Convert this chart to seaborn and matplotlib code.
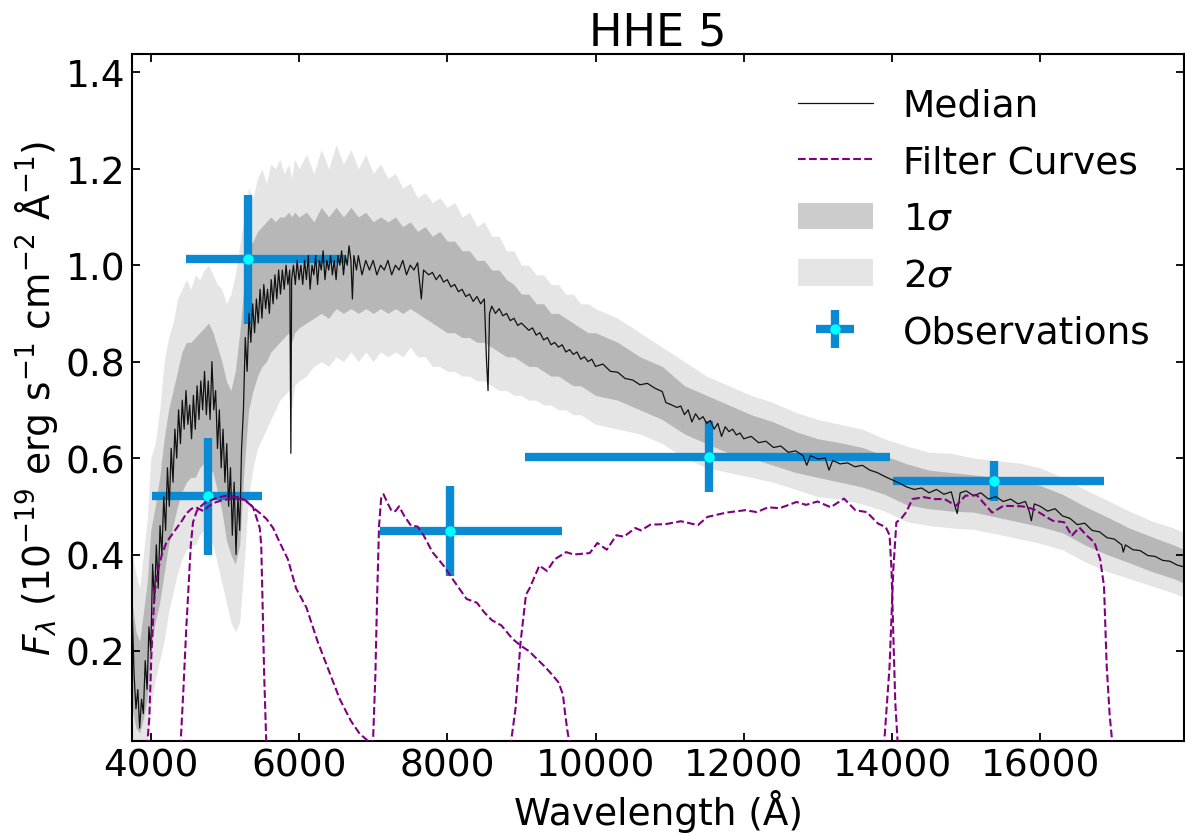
import matplotlib
matplotlib.use("Agg")
import matplotlib.pyplot as plt
import seaborn as sns

# median model spectrum
med_wave = [3750, 3775, 3800, 3825, 3850, 3875, 3900, 3925, 3950, 3975,
            4000, 4025, 4050, 4075, 4100, 4125, 4150, 4175, 4200, 4225,
            4250, 4275, 4300, 4325, 4350, 4375, 4400, 4425, 4450, 4475,
            4500, 4525, 4550, 4575, 4600, 4625, 4650, 4675, 4700, 4725,
            4750, 4775, 4800, 4825, 4850, 4875, 4900, 4925, 4950, 4975,
            5000, 5025, 5050, 5075, 5100, 5125, 5150, 5175, 5200, 5225,
            5250, 5275, 5300, 5325, 5350, 5375, 5400, 5425, 5450, 5475,
            5500, 5525, 5550, 5575, 5600, 5625, 5650, 5675, 5700, 5725,
            5750, 5775, 5800, 5825, 5850, 5875, 5890, 5900, 5925, 5950,
            5975, 6000, 6025, 6050, 6075, 6100, 6125, 6150, 6175, 6200,
            6225, 6250, 6275, 6300, 6325, 6350, 6375, 6400, 6425, 6450,
            6475, 6500, 6525, 6550, 6575, 6600, 6625, 6650, 6675, 6700,
            6720, 6740, 6775, 6800, 6850, 6900, 6950, 7000, 7050, 7100,
            7150, 7200, 7250, 7300, 7350, 7400, 7450, 7500, 7550, 7600,
            7650, 7680, 7750, 7800, 7850, 7900, 7950, 8000, 8050, 8100,
            8150, 8200, 8250, 8300, 8350, 8400, 8450, 8500, 8530, 8550,
            8570, 8600, 8650, 8700, 8750, 8800, 8850, 8900, 8950, 9000,
            9100, 9150, 9200, 9250, 9300, 9350, 9400, 9450, 9500, 9550,
            9600, 9650, 9700, 9750, 9800, 9850, 9900, 9950, 10000, 10100,
            10200, 10300, 10400, 10500, 10600, 10700, 10800, 10900, 10950, 11000,
            11100, 11150, 11200, 11250, 11300, 11350, 11400, 11450, 11500, 11550,
            11600, 11650, 11700, 11750, 11800, 11850, 11900, 11950, 12000, 12100,
            12200, 12300, 12400, 12500, 12600, 12700, 12800, 12850, 12900, 13000,
            13100, 13150, 13200, 13300, 13400, 13500, 13600, 13700, 13800, 13900,
            14000, 14100, 14200, 14300, 14400, 14500, 14600, 14700, 14800, 14850,
            14880, 14920, 15000, 15100, 15200, 15300, 15400, 15500, 15600, 15700,
            15800, 15850, 15880, 15920, 16000, 16100, 16200, 16300, 16400, 16500,
            16600, 16700, 16800, 16900, 17000, 17100, 17120, 17150, 17250, 17350,
            17450, 17550, 17650, 17750, 17850, 17950]
med_flux = [0.28, 0.15, 0.08, 0.12, 0.04, 0.10, 0.07, 0.18, 0.12, 0.25,
            0.20, 0.38, 0.30, 0.42, 0.33, 0.46, 0.40, 0.52, 0.45, 0.58,
            0.50, 0.62, 0.55, 0.66, 0.60, 0.70, 0.63, 0.72, 0.66, 0.74,
            0.67, 0.71, 0.64, 0.73, 0.66, 0.75, 0.68, 0.76, 0.70, 0.78,
            0.69, 0.76, 0.68, 0.80, 0.70, 0.74, 0.62, 0.70, 0.58, 0.66,
            0.55, 0.63, 0.50, 0.58, 0.44, 0.55, 0.40, 0.52, 0.45, 0.62,
            0.70, 0.85, 0.78, 0.90, 0.84, 0.92, 0.86, 0.93, 0.88, 0.95,
            0.89, 0.96, 0.91, 0.95, 0.90, 0.97, 0.92, 0.98, 0.93, 0.99,
            0.94, 0.99, 0.95, 1.00, 0.96, 0.99, 0.61, 0.97, 1.00, 0.96,
            1.01, 0.97, 1.00, 0.96, 1.01, 0.97, 1.02, 0.95, 1.00, 0.98,
            1.02, 0.96, 1.01, 0.99, 1.03, 0.97, 1.01, 0.99, 1.02, 0.98,
            1.01, 0.97, 1.02, 1.00, 1.03, 0.98, 1.02, 1.00, 1.04, 1.01,
            0.93, 1.02, 0.99, 1.02, 0.98, 1.01, 0.99, 1.01, 0.98, 1.00,
            0.99, 1.01, 0.98, 1.00, 0.99, 1.01, 0.98, 1.00, 0.99, 1.005,
            0.93, 0.99, 0.98, 0.985, 0.97, 0.98, 0.965, 0.97, 0.955, 0.96,
            0.945, 0.95, 0.935, 0.94, 0.925, 0.935, 0.92, 0.93, 0.80, 0.74,
            0.90, 0.915, 0.90, 0.91, 0.895, 0.90, 0.885, 0.89, 0.875, 0.88,
            0.865, 0.87, 0.855, 0.86, 0.845, 0.85, 0.835, 0.84, 0.83, 0.835,
            0.82, 0.825, 0.815, 0.82, 0.805, 0.81, 0.80, 0.805, 0.79, 0.795,
            0.78, 0.778, 0.765, 0.762, 0.752, 0.755, 0.745, 0.738, 0.715, 0.712,
            0.705, 0.708, 0.69, 0.70, 0.675, 0.692, 0.68, 0.686, 0.672, 0.678,
            0.66, 0.672, 0.645, 0.665, 0.655, 0.66, 0.648, 0.652, 0.64, 0.645,
            0.632, 0.635, 0.622, 0.625, 0.612, 0.615, 0.605, 0.585, 0.605, 0.598,
            0.60, 0.575, 0.595, 0.588, 0.59, 0.582, 0.585, 0.575, 0.57, 0.562,
            0.555, 0.548, 0.54, 0.535, 0.538, 0.528, 0.535, 0.525, 0.53, 0.50,
            0.485, 0.528, 0.532, 0.522, 0.528, 0.515, 0.52, 0.51, 0.515, 0.505,
            0.51, 0.49, 0.47, 0.505, 0.50, 0.49, 0.495, 0.48, 0.475, 0.462,
            0.465, 0.45, 0.447, 0.435, 0.432, 0.42, 0.405, 0.42, 0.41, 0.408,
            0.398, 0.396, 0.388, 0.386, 0.378, 0.374]

# 1 and 2 sigma envelopes
band_wave = [3750, 3800, 3850, 3900, 3950, 4000, 4060, 4120, 4180, 4240,
             4300, 4360, 4420, 4480, 4540, 4600, 4660, 4720, 4780, 4840,
             4900, 4960, 5020, 5080, 5140, 5200, 5260, 5320, 5380, 5440,
             5500, 5560, 5620, 5680, 5740, 5800, 5860, 5900, 5940, 6000,
             6100, 6200, 6300, 6400, 6500, 6600, 6700, 6800, 6900, 7000,
             7100, 7200, 7300, 7400, 7500, 7600, 7700, 7800, 7900, 8000,
             8100, 8200, 8300, 8400, 8500, 8600, 8700, 8800, 8900, 9000,
             9100, 9200, 9300, 9400, 9500, 9600, 9700, 9800, 9900, 10000,
             10300, 10600, 10900, 11200, 11500, 11800, 12100, 12400, 12700, 13000,
             13300, 13600, 13900, 14200, 14500, 14800, 15100, 15400, 15700, 16000,
             16300, 16600, 16900, 17200, 17500, 17800, 17950]
hi2 = [0.40, 0.36, 0.33, 0.40, 0.47, 0.60, 0.63, 0.70, 0.80, 0.85,
       0.88, 0.93, 0.95, 0.97, 0.95, 0.98, 0.97, 0.99, 1.00, 0.98,
       0.96, 0.95, 0.92, 0.94, 0.98, 1.04, 1.10, 1.16, 1.14, 1.18,
       1.20, 1.17, 1.21, 1.20, 1.22, 1.19, 1.21, 1.18, 1.22, 1.20,
       1.23, 1.19, 1.24, 1.20, 1.25, 1.21, 1.24, 1.20, 1.23, 1.19,
       1.21, 1.18, 1.19, 1.16, 1.17, 1.14, 1.15, 1.13, 1.14, 1.12,
       1.13, 1.10, 1.11, 1.08, 1.09, 1.06, 1.06, 1.03, 1.03, 1.00,
       1.00, 0.98, 0.98, 0.96, 0.96, 0.94, 0.94, 0.92, 0.92, 0.91,
       0.89, 0.86, 0.83, 0.80, 0.77, 0.75, 0.73, 0.715, 0.695, 0.68,
       0.67, 0.66, 0.64, 0.625, 0.612, 0.61, 0.60, 0.595, 0.59, 0.58,
       0.56, 0.535, 0.513, 0.49, 0.47, 0.455, 0.445]
hi1 = [0.30, 0.24, 0.22, 0.28, 0.34, 0.45, 0.50, 0.56, 0.64, 0.70,
       0.74, 0.78, 0.82, 0.84, 0.84, 0.85, 0.86, 0.87, 0.88, 0.86,
       0.83, 0.80, 0.76, 0.74, 0.78, 0.86, 0.96, 1.04, 1.05, 1.07,
       1.08, 1.09, 1.10, 1.09, 1.10, 1.10, 1.11, 1.10, 1.11, 1.10,
       1.11, 1.09, 1.12, 1.10, 1.12, 1.10, 1.12, 1.10, 1.11, 1.09,
       1.10, 1.09, 1.10, 1.08, 1.09, 1.07, 1.08, 1.06, 1.07, 1.05,
       1.05, 1.03, 1.03, 1.01, 1.01, 0.99, 0.99, 0.97, 0.96, 0.94,
       0.94, 0.92, 0.92, 0.90, 0.90, 0.89, 0.88, 0.87, 0.86, 0.86,
       0.84, 0.81, 0.79, 0.75, 0.73, 0.71, 0.69, 0.675, 0.655, 0.64,
       0.632, 0.622, 0.605, 0.588, 0.575, 0.57, 0.565, 0.56, 0.553, 0.543,
       0.525, 0.50, 0.478, 0.455, 0.437, 0.42, 0.41]
lo1 = [0.08, 0.04, 0.03, 0.06, 0.10, 0.20, 0.26, 0.30, 0.36, 0.42,
       0.46, 0.50, 0.53, 0.55, 0.56, 0.56, 0.58, 0.59, 0.58, 0.57,
       0.53, 0.49, 0.43, 0.40, 0.38, 0.42, 0.58, 0.70, 0.74, 0.77,
       0.79, 0.80, 0.82, 0.83, 0.84, 0.85, 0.86, 0.84, 0.86, 0.87,
       0.88, 0.89, 0.90, 0.89, 0.91, 0.90, 0.91, 0.90, 0.91, 0.90,
       0.91, 0.90, 0.91, 0.90, 0.91, 0.90, 0.89, 0.88, 0.87, 0.86,
       0.86, 0.85, 0.85, 0.84, 0.84, 0.83, 0.82, 0.81, 0.81, 0.80,
       0.79, 0.79, 0.78, 0.77, 0.77, 0.76, 0.75, 0.75, 0.74, 0.73,
       0.72, 0.70, 0.68, 0.65, 0.63, 0.61, 0.60, 0.585, 0.57, 0.56,
       0.55, 0.54, 0.525, 0.503, 0.495, 0.49, 0.488, 0.478, 0.468, 0.458,
       0.445, 0.42, 0.40, 0.383, 0.365, 0.35, 0.34]
lo2 = [0.00, 0.00, 0.00, 0.00, 0.02, 0.08, 0.14, 0.18, 0.22, 0.28,
       0.32, 0.36, 0.39, 0.41, 0.42, 0.42, 0.44, 0.45, 0.44, 0.42,
       0.38, 0.34, 0.30, 0.26, 0.24, 0.26, 0.38, 0.52, 0.58, 0.62,
       0.64, 0.66, 0.68, 0.70, 0.72, 0.73, 0.74, 0.70, 0.75, 0.76,
       0.77, 0.79, 0.80, 0.79, 0.81, 0.80, 0.82, 0.80, 0.82, 0.80,
       0.82, 0.81, 0.82, 0.81, 0.83, 0.81, 0.81, 0.79, 0.79, 0.78,
       0.78, 0.77, 0.77, 0.76, 0.76, 0.75, 0.74, 0.74, 0.73, 0.73,
       0.72, 0.72, 0.71, 0.71, 0.70, 0.70, 0.69, 0.69, 0.68, 0.67,
       0.66, 0.65, 0.63, 0.60, 0.58, 0.57, 0.56, 0.55, 0.535, 0.52,
       0.515, 0.505, 0.49, 0.468, 0.46, 0.455, 0.452, 0.443, 0.433, 0.423,
       0.41, 0.385, 0.365, 0.35, 0.335, 0.32, 0.31]

# filter transmission curves (scaled to plot units)
f1_wave = [3950, 3980, 4010, 4050, 4100, 4150, 4210, 4280, 4350, 4420,
           4480, 4550, 4610, 4660, 4710, 4780, 4850, 4950, 5050, 5150,
           5250, 5330, 5400, 5480, 5560, 5650, 5740, 5850, 5960, 6100,
           6250, 6400, 6550, 6700, 6820, 6920, 6990]
f1_val = [0.0, 0.06, 0.20, 0.32, 0.37, 0.40, 0.425, 0.44, 0.455, 0.47,
          0.485, 0.495, 0.498, 0.494, 0.49, 0.50, 0.507, 0.512, 0.515, 0.516,
          0.514, 0.505, 0.495, 0.485, 0.474, 0.455, 0.425, 0.39, 0.33, 0.29,
          0.22, 0.16, 0.10, 0.055, 0.028, 0.015, 0.0]
f2_wave = [4400, 4440, 4480, 4505, 4540, 4570, 4620, 4660, 4720, 4800,
           4900, 5020, 5130, 5245, 5320, 5380, 5440, 5470, 5490, 5505,
           5530, 5560]
f2_val = [0.0, 0.12, 0.25, 0.32, 0.42, 0.467, 0.49, 0.498, 0.506, 0.512,
          0.518, 0.522, 0.52, 0.515, 0.508, 0.498, 0.47, 0.455, 0.42, 0.32,
          0.15, 0.0]
f3_wave = [6960, 7000, 7030, 7055, 7080, 7110, 7140, 7200, 7250, 7300,
           7350, 7420, 7510, 7600, 7680, 7800, 7950, 8100, 8260, 8400,
           8500, 8600, 8730, 8880, 9000, 9100, 9200, 9300, 9420, 9500,
           9560, 9590, 9620, 9660]
f3_val = [0.0, 0.02, 0.15, 0.32, 0.46, 0.52, 0.525, 0.505, 0.49, 0.49,
          0.50, 0.48, 0.46, 0.458, 0.44, 0.405, 0.377, 0.343, 0.308, 0.30,
          0.28, 0.264, 0.253, 0.225, 0.21, 0.20, 0.185, 0.17, 0.15, 0.135,
          0.11, 0.07, 0.035, 0.0]
f4_wave = [8850, 8920, 8990, 9062, 9114, 9242, 9345, 9449, 9603, 9707,
           9922, 10025, 10152, 10281, 10384, 10536, 10613, 10741, 10946, 11152,
           11382, 11509, 11765, 12021, 12175, 12329, 12483, 12712, 12840, 12994,
           13173, 13352, 13506, 13659, 13813, 13915, 13967, 13993, 14018, 14044,
           14080]
f4_val = [0.0, 0.08, 0.22, 0.317, 0.331, 0.377, 0.366, 0.39, 0.405, 0.40,
          0.403, 0.424, 0.41, 0.44, 0.437, 0.455, 0.45, 0.462, 0.463, 0.469,
          0.461, 0.478, 0.487, 0.492, 0.488, 0.498, 0.496, 0.509, 0.503, 0.51,
          0.498, 0.516, 0.492, 0.488, 0.464, 0.457, 0.44, 0.37, 0.232, 0.094,
          0.0]
f5_wave = [13890, 13967, 14018, 14059, 14121, 14192, 14275, 14428, 14581, 14710,
           14863, 14991, 15145, 15350, 15503, 15759, 15912, 16169, 16322, 16425,
           16527, 16630, 16731, 16808, 16860, 16896, 16937, 16978]
f5_val = [0.0, 0.168, 0.37, 0.467, 0.474, 0.488, 0.515, 0.519, 0.515, 0.515,
          0.501, 0.522, 0.523, 0.487, 0.501, 0.50, 0.494, 0.47, 0.467, 0.439,
          0.456, 0.439, 0.425, 0.39, 0.335, 0.17, 0.066, 0.0]

# photometric observations
obs_wave = [4773, 5305, 8035, 11535, 15375]
obs_flux = [0.521, 1.012, 0.449, 0.603, 0.552]
obs_xlo = [750, 833, 946, 2489, 1357]
obs_xhi = [729, 1335, 1507, 2432, 1485]
obs_ferr = [0.121, 0.133, 0.093, 0.073, 0.042]


def main():
    sns.set_style("ticks")
    plt.rcParams["font.family"] = ["DejaVu Sans"]
    for key in ["text.color", "axes.labelcolor", "xtick.color", "ytick.color", "axes.edgecolor"]:
        plt.rcParams[key] = "black"

    fig = plt.figure(figsize=(11.85, 8.37), dpi=100)
    ax = fig.add_axes([0.1116, 0.1139, 0.8876, 0.8204])

    b2 = ax.fill_between(band_wave, lo2, hi2, color="k", alpha=0.1, lw=0, zorder=1)
    b1 = ax.fill_between(band_wave, lo1, hi1, color="k", alpha=0.2, lw=0, zorder=2)

    obs = ax.errorbar(obs_wave, obs_flux, xerr=[obs_xlo, obs_xhi], yerr=obs_ferr,
                      fmt="o", color="#0a8ad2", ecolor="#0a8ad2", elinewidth=6,
                      capsize=0, ms=6.5, mfc="cyan", mec="cyan", zorder=3)

    sns.lineplot(x=med_wave, y=med_flux, color="#111111", lw=0.9,
                 estimator=None, sort=False, ax=ax, zorder=4)
    med_line = ax.lines[-1]

    filters = [(f1_wave, f1_val), (f2_wave, f2_val), (f3_wave, f3_val),
               (f4_wave, f4_val), (f5_wave, f5_val)]
    for fw, fv in filters:
        sns.lineplot(x=fw, y=fv, color="purple", lw=1.5, linestyle="--",
                     estimator=None, sort=False, ax=ax, zorder=5)
    filt_line = ax.lines[-1]

    ax.set_xlim(3750, 17940)
    ax.set_ylim(0.014, 1.438)
    ax.set_xticks([4000, 6000, 8000, 10000, 12000, 14000, 16000])
    ax.set_yticks([0.2, 0.4, 0.6, 0.8, 1.0, 1.2, 1.4])
    ax.tick_params(which="both", direction="in", top=True, right=True,
                   length=6, width=1.3, labelsize=27, pad=5, colors="black")
    for sp in ax.spines.values():
        sp.set_linewidth(1.5)
        sp.set_color("black")

    ax.set_xlabel("Wavelength (Å)", fontsize=27)
    ax.set_ylabel(r"$F_{\lambda}$ ($10^{-19}$ erg s$^{-1}$ cm$^{-2}$ Å$^{-1}$)", fontsize=27)
    ax.set_title("HHE 5", fontsize=32)

    ax.legend([med_line, filt_line, b1, b2, obs],
              ["Median", "Filter Curves", r"$1\sigma$", r"$2\sigma$", "Observations"],
              loc="upper right", frameon=False, fontsize=27, labelspacing=0.55)

    fig.savefig("out.png", dpi=100)
    plt.close(fig)


if __name__ == "__main__":
    main()
